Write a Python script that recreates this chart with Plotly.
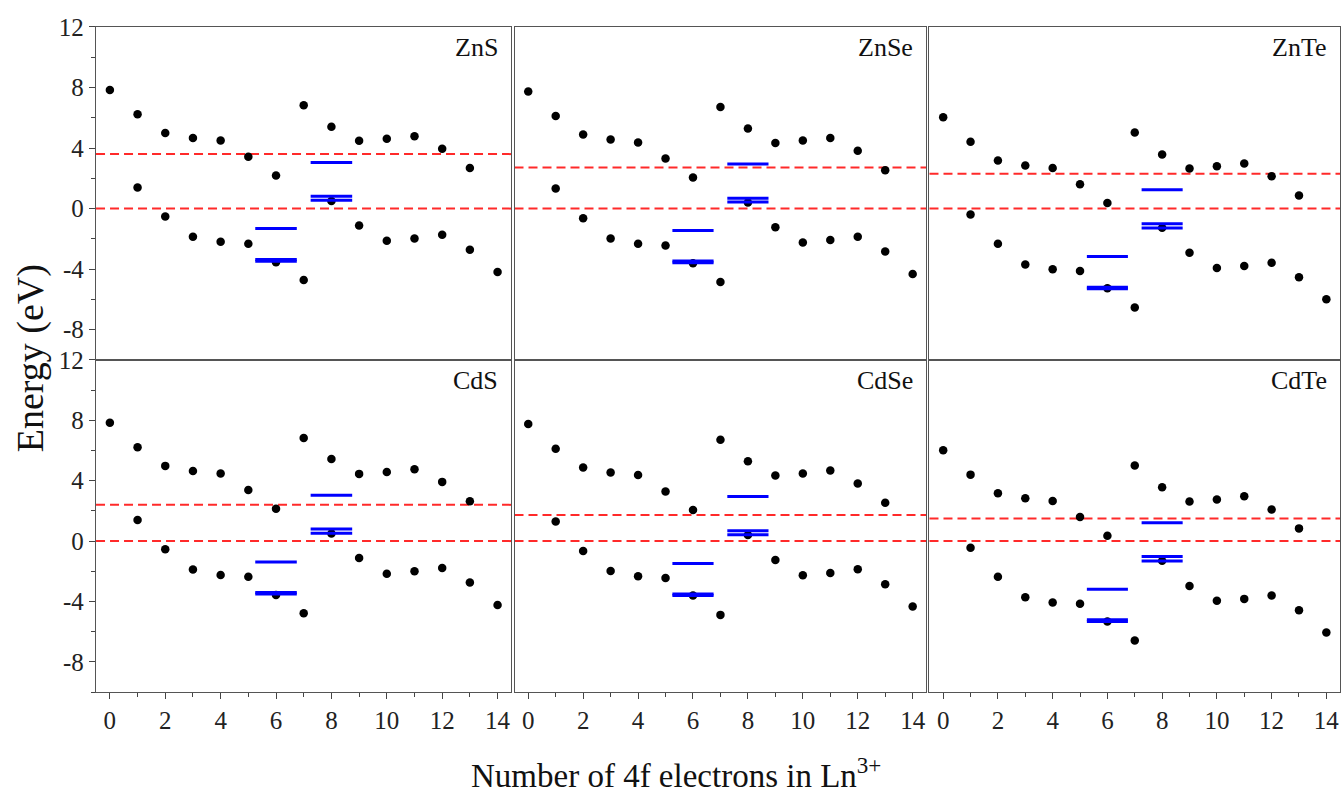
import plotly.graph_objects as go
from plotly.subplots import make_subplots

materials = ["ZnS", "ZnSe", "ZnTe", "CdS", "CdSe", "CdTe"]
n_upper = list(range(0, 14))
n_lower = list(range(1, 15))
blue_centers = [6, 8]
y_tickvals = [-8, -4, 0, 4, 8, 12]
y_ticktext = ["-8", "-4", "0", "4", "8", "12"]

upper = {
    "ZnS":  [7.83, 6.23, 5.00, 4.67, 4.50, 3.42, 2.19, 6.82, 5.40, 4.48, 4.61, 4.78, 3.95, 2.68],
    "ZnSe": [7.74, 6.12, 4.89, 4.56, 4.37, 3.31, 2.06, 6.71, 5.29, 4.34, 4.50, 4.67, 3.82, 2.54],
    "ZnTe": [6.03, 4.41, 3.18, 2.85, 2.68, 1.60, 0.37, 5.02, 3.58, 2.65, 2.79, 2.98, 2.13, 0.86],
    "CdS":  [7.84, 6.21, 4.98, 4.64, 4.47, 3.38, 2.14, 6.83, 5.44, 4.45, 4.58, 4.76, 3.92, 2.64],
    "CdSe": [7.75, 6.12, 4.87, 4.54, 4.38, 3.28, 2.05, 6.71, 5.28, 4.34, 4.47, 4.67, 3.81, 2.53],
    "CdTe": [6.01, 4.40, 3.17, 2.84, 2.66, 1.59, 0.35, 5.00, 3.57, 2.62, 2.75, 2.97, 2.09, 0.84],
}
lower = {
    "ZnS":  [1.40, -0.53, -1.86, -2.19, -2.33, -3.55, -4.72, 0.50, -1.12, -2.13, -1.97, -1.73, -2.72, -4.19],
    "ZnSe": [1.32, -0.64, -1.97, -2.33, -2.44, -3.62, -4.85, 0.40, -1.23, -2.24, -2.08, -1.86, -2.83, -4.32],
    "ZnTe": [-0.39, -2.33, -3.69, -4.01, -4.12, -5.27, -6.54, -1.27, -2.92, -3.93, -3.80, -3.58, -4.54, -5.99],
    "CdS":  [1.39, -0.55, -1.89, -2.25, -2.36, -3.58, -4.78, 0.50, -1.12, -2.16, -2.00, -1.78, -2.75, -4.23],
    "CdSe": [1.30, -0.66, -1.98, -2.33, -2.44, -3.61, -4.89, 0.40, -1.25, -2.27, -2.11, -1.87, -2.86, -4.34],
    "CdTe": [-0.44, -2.36, -3.72, -4.07, -4.16, -5.33, -6.58, -1.30, -2.97, -3.96, -3.83, -3.61, -4.58, -6.05],
}
# levels drawn as blue bars at n=6 and n=8
blue_levels_6 = {
    "ZnS":  [-1.32, -3.36, -3.48],
    "ZnSe": [-1.45, -3.47, -3.58],
    "ZnTe": [-3.16, -5.20, -5.30],
    "CdS":  [-1.39, -3.40, -3.50],
    "CdSe": [-1.48, -3.50, -3.60],
    "CdTe": [-3.19, -5.22, -5.32],
}
blue_levels_8 = {
    "ZnS":  [3.05, 0.81, 0.55],
    "ZnSe": [2.94, 0.68, 0.44],
    "ZnTe": [1.25, -1.01, -1.29],
    "CdS":  [3.04, 0.80, 0.52],
    "CdSe": [2.95, 0.68, 0.42],
    "CdTe": [1.21, -1.03, -1.32],
}
band_gap = {"ZnS": 3.60, "ZnSe": 2.72, "ZnTe": 2.30, "CdS": 2.40, "CdSe": 1.72, "CdTe": 1.50}
vbm = 0.0

FONT = "Liberation Serif, Times New Roman, serif"
BAR_HALF = 0.75

fig = make_subplots(rows=2, cols=3)

for i, m in enumerate(materials):
    r, c = i // 3 + 1, i % 3 + 1
    fig.add_trace(go.Scatter(x=n_upper, y=upper[m], mode="markers",
                             marker=dict(color="black", size=8.5), showlegend=False), row=r, col=c)
    fig.add_trace(go.Scatter(x=n_lower, y=lower[m], mode="markers",
                             marker=dict(color="black", size=8.5), showlegend=False), row=r, col=c)
    for center, levels in zip(blue_centers, (blue_levels_6[m], blue_levels_8[m])):
        for lv in levels:
            fig.add_trace(go.Scatter(x=[center - BAR_HALF, center + BAR_HALF], y=[lv, lv], mode="lines",
                                     line=dict(color="#0000ff", width=3), showlegend=False),
                          row=r, col=c)
    for lvl in (vbm, band_gap[m]):
        fig.add_hline(y=lvl, row=r, col=c, line=dict(color="#ff2a2a", width=2, dash="9px,5px"),
                      layer="below")
    axn = "" if i == 0 else str(i + 1)
    fig.add_annotation(text=m, xref=f"x{axn} domain", yref=f"y{axn} domain", x=0.972, y=0.937,
                       xanchor="right", yanchor="middle", showarrow=False,
                       font=dict(family=FONT, size=26, color="#111"))

xdom = [(0.0715, 0.3808), (0.3831, 0.6898), (0.6921, 0.9978)]
ydom = [(0.5490, 0.9662), (0.1328, 0.5490)]

for i in range(6):
    r, c = i // 3 + 1, i % 3 + 1
    bottom = r == 2
    left = c == 1
    fig.update_xaxes(row=r, col=c, domain=xdom[c - 1], range=[-0.5, 14.5], tick0=0, dtick=2,
                     automargin=False,
                     showgrid=False, zeroline=False, showline=True, mirror=True,
                     linecolor="#555", linewidth=1.3,
                     ticks="outside" if bottom else "", ticklen=6, tickcolor="#444",
                     minor=dict(ticks="outside" if bottom else "", dtick=1, ticklen=4, tickcolor="#444"),
                     showticklabels=bottom, tickfont=dict(family=FONT, size=25, color="#222"))
    fig.update_yaxes(row=r, col=c, domain=ydom[r - 1], range=[-10, 12],
                     automargin=False,
                     tickmode="array", tickvals=y_tickvals, ticktext=y_ticktext,
                     showgrid=False, zeroline=False, showline=True, mirror=True,
                     linecolor="#555", linewidth=1.3,
                     ticks="outside" if left else "", ticklen=6, tickcolor="#444",
                     minor=dict(ticks="outside" if left else "", tickmode="linear", tick0=0, dtick=2,
                                ticklen=4, tickcolor="#444"),
                     showticklabels=left, tickfont=dict(family=FONT, size=25, color="#222"))

fig.add_annotation(text="Energy (eV)", xref="paper", yref="paper", x=0.0223, y=0.551,
                   textangle=-90, showarrow=False, xanchor="center", yanchor="middle",
                   font=dict(family=FONT, size=38, color="#111"))
fig.add_annotation(text="Number of 4f electrons in Ln<sup>3+</sup>", xref="paper", yref="paper",
                   x=0.503, y=0.031, showarrow=False, xanchor="center", yanchor="middle",
                   font=dict(family=FONT, size=33, color="#111"))

fig.update_layout(width=1343, height=798, margin=dict(l=0, r=0, t=0, b=0, autoexpand=False),
                  plot_bgcolor="white", paper_bgcolor="white", showlegend=False)

fig.write_html("out.html", config={"displayModeBar": False},
               post_script="document.body.style.margin='0';document.body.style.overflow='hidden';")
